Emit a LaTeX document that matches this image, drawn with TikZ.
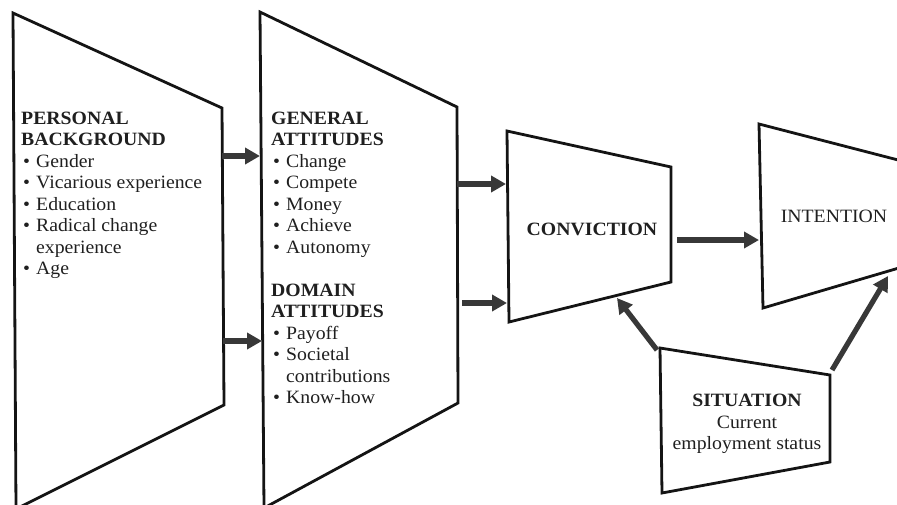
\documentclass[tikz,border=0pt]{standalone}
\usepackage{fontspec}
\setmainfont[FakeStretch=1.05]{Liberation Serif}
\usetikzlibrary{arrows.meta}
\newcommand{\bulit}{\hspace*{2pt}\makebox[13pt][l]{\textbullet}}
\begin{document}
\begin{tikzpicture}[x=1pt,y=-1pt,
  box/.style={draw=black!92,line width=2.8pt,line join=miter},
  conn/.style={draw=black!78,line width=5.2pt,-{Triangle[length=15pt,width=16pt]}},
  txt/.style={inner sep=0pt,text=black!88,font=\fontsize{18.8}{21.5}\selectfont,align=left},
  ctxt/.style={inner sep=0pt,text=black!88,font=\fontsize{18.8}{21.5}\selectfont,align=center}]

\useasboundingbox (0,0) rectangle (897,504);
\clip (0,0) rectangle (897,504);

% shapes
\draw[box] (13,13) -- (222,108) -- (224,405) -- (16,509) -- cycle;
\draw[box] (260,12) -- (457,107) -- (458,403) -- (264,508) -- cycle;
\draw[box] (507,131) -- (671,167) -- (671,282) -- (509,322) -- cycle;
\draw[box] (759,124) -- (960,176) -- (960,250) -- (763,308) -- cycle;
\draw[box] (660,348) -- (830,375) -- (830,462) -- (662,493) -- cycle;

% texts
\node[txt,anchor=north west] (pb) at (21,111.6) {\textbf{PERSONAL}\\\textbf{BACKGROUND}\\
\bulit Gender\\\bulit Vicarious experience\\\bulit Education\\\bulit Radical change\\
\hspace*{15pt}experience\\\bulit Age};

\node[txt,anchor=north west] (ga) at (271,111.6) {\textbf{GENERAL}\\\textbf{ATTITUDES}\\
\bulit Change\\\bulit Compete\\\bulit Money\\\bulit Achieve\\\bulit Autonomy\\[21.5pt]
\textbf{DOMAIN}\\\textbf{ATTITUDES}\\\bulit Payoff\\\bulit Societal\\
\hspace*{15pt}contributions\\\bulit Know-how};

\node[ctxt] (conv) at (592,229) {\textbf{CONVICTION}};
\node[ctxt] (int) at (834,216) {INTENTION};
\node[ctxt] (sit) at (747,424) {\textbf{SITUATION}\\Current\\employment status};

% connector end points
\coordinate (a1s) at (222,156); \coordinate (a1e) at (260,156);
\coordinate (a2s) at (223,341); \coordinate (a2e) at (262,341);
\coordinate (a3s) at (457,184); \coordinate (a3e) at (506,184);
\coordinate (a4s) at (462,303); \coordinate (a4e) at (507,303);
\coordinate (a5s) at (677,240); \coordinate (a5e) at (759,240);
\coordinate (a6s) at (657,350); \coordinate (a6e) at (617,298);
\coordinate (a7s) at (832,370); \coordinate (a7e) at (888,276);

\draw[conn] (a1s) -- (a1e);
\draw[conn] (a2s) -- (a2e);
\draw[conn] (a3s) -- (a3e);
\draw[conn] (a4s) -- (a4e);
\draw[conn] (a5s) -- (a5e);
\draw[conn] (a6s) -- (a6e);
\draw[conn] (a7s) -- (a7e);
\end{tikzpicture}
\end{document}
